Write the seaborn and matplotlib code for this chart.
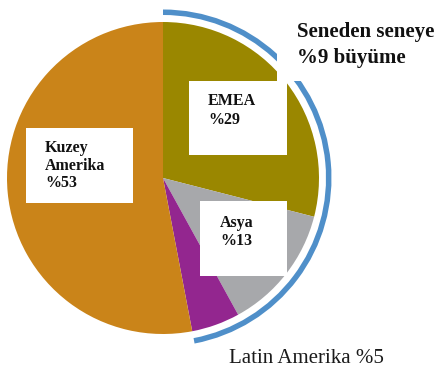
import matplotlib
matplotlib.use("Agg")
import matplotlib.pyplot as plt
from matplotlib.patches import Wedge, Rectangle
import seaborn as sns

# Regional revenue shares (percent), clockwise from 12 o'clock
regions = ["EMEA", "Asya", "Latin Amerika", "Kuzey Amerika"]
shares = [29, 13, 5, 53]
slice_colors = ["#9a8700", "#a7a8ab", "#93268f", "#ca8419"]

# Headline for the growth arc
growth_title = ["Seneden seneye", "%9 büyüme"]
growth_color = "#4f8fc9"

sns.set_theme(style="white")
plt.rcParams["font.family"] = ["Liberation Serif", "DejaVu Serif"]

W, H = 438, 367
fig = plt.figure(figsize=(W / 100, H / 100), dpi=100)
ax = fig.add_axes([0, 0, 1, 1])

cx, cy, r = 163, H - 178, 156
ax.pie(shares, colors=slice_colors, startangle=90, counterclock=False,
       center=(cx, cy), radius=r, wedgeprops=dict(linewidth=0))

ax.set_xlim(0, W)
ax.set_ylim(0, H)
ax.set_aspect("equal")
ax.axis("off")

# Arc around the regions outside North America
span = sum(shares[:3])
ax.add_patch(Wedge((cx, cy), 168.5, 90 - 3.6 * span, 90, width=5.5,
                   facecolor=growth_color, edgecolor="none", zorder=3))

# Headline panel
ax.add_patch(Rectangle((277, H - 81), W - 277, 81, facecolor="white",
                       edgecolor="none", zorder=4))
for line, base in zip(growth_title, [37, 63]):
    ax.text(297, H - base, line, fontsize=15, fontweight="bold",
            color="#111111", ha="left", va="baseline", zorder=5)


def label_box(x0, y0, x1, y1, tx, lines, baselines):
    ax.add_patch(Rectangle((x0, H - y1), x1 - x0, y1 - y0, facecolor="white",
                           edgecolor="none", zorder=4))
    for line, base in zip(lines, baselines):
        ax.text(tx, H - base, line, fontsize=11.5, fontweight="bold",
                color="#111111", ha="left", va="baseline", zorder=5)


label_box(189, 81, 287, 155, 208, [regions[0], f"%{shares[0]}"], [105, 124])
label_box(200, 201, 287, 276, 220, [regions[1], f"%{shares[1]}"], [227, 245])
label_box(26, 128, 133, 203, 45, regions[3].split(" ") + [f"%{shares[3]}"],
          [152, 170, 187])

ax.text(229, H - 363, f"{regions[2]} %{shares[2]}", fontsize=15,
        color="#1a1a1a", ha="left", va="baseline", zorder=5)

fig.savefig("out.png", dpi=100, facecolor="white")
